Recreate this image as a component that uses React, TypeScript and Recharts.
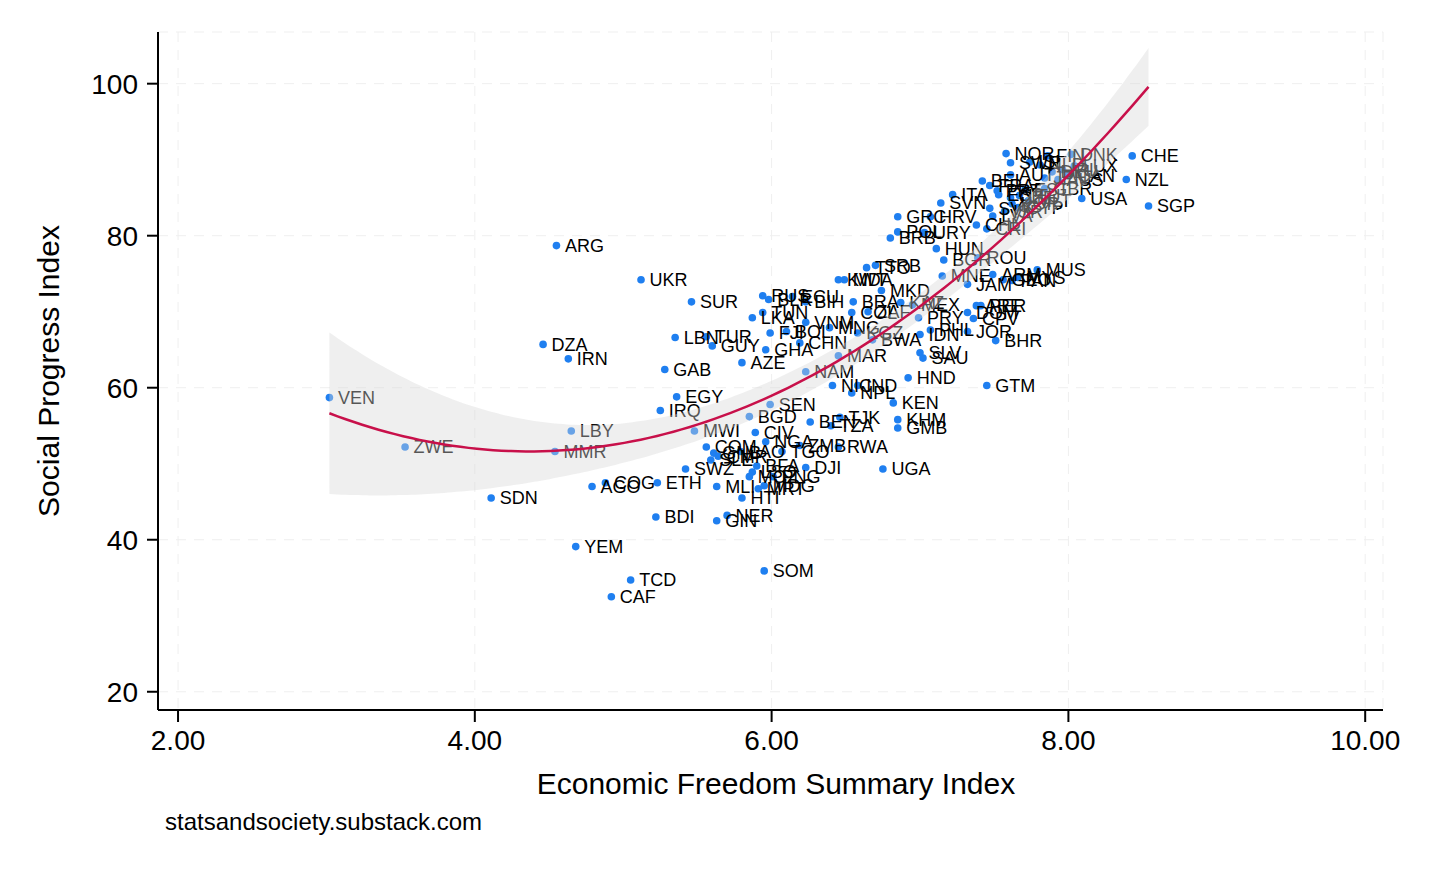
import React from "react";
import { ComposedChart, Scatter, Area, Line, XAxis, YAxis, CartesianGrid, LabelList, Label } from "recharts";

// country codes, Economic Freedom Summary Index, Social Progress Index
const countries = [
  "VEN", "ZWE", "SDN", "DZA", "IRN", "ARG", "LBY", "MMR", "YEM", "AGO",
  "COG", "TCD", "CAF", "UKR", "BDI", "ETH", "IRQ", "GAB", "EGY", "LBN",
  "SUR", "MWI", "SWZ", "TUR", "GUY", "COM", "GNB", "CMR", "SLE", "MLI",
  "GIN", "NER", "HTI", "LAO", "BFA", "LSO", "MOZ", "PNG", "MRT", "MDG",
  "CIV", "NGA", "TGO", "ZMB", "DJI", "UGA", "RWA", "BEN", "TZA", "TJK",
  "SEN", "BGD", "KHM", "GMB", "KEN", "NIC", "IND", "NPL", "HND", "GTM",
  "SOM", "NAM", "MAR", "AZE", "GHA", "CHN", "FJI", "BOL", "LKA", "TUN",
  "RUS", "BLR", "ECU", "BIH", "VNM", "MNG", "KGZ", "BWA", "IDN", "PHL",
  "SLV", "SAU", "BRA", "COL", "ZAF", "KAZ", "MEX", "PRY", "MKD", "KWT",
  "MDA", "TTO", "SRB", "HUN", "BGR", "ROU", "MNE", "JAM", "ARM", "GEO",
  "PAN", "MYS", "MUS", "ARE", "PER", "DOM", "CPV", "JOR", "BHR", "BRB",
  "POL", "URY", "GRC", "HRV", "CHL", "CRI", "SVN", "ITA", "SVK", "LVA",
  "ISR", "CYP", "KOR", "CZE", "LTU", "ESP", "PRT", "FRA", "EST", "GBR",
  "MLT", "USA", "SGP", "NZL", "CHE", "NOR", "SWE", "FIN", "DNK", "AUT",
  "BEL", "NLD", "ISL", "DEU", "IRL", "CAN", "AUS", "LUX", "JPN",
];

const econFreedom = [
  3.02, 3.53, 4.11, 4.46, 4.63, 4.55, 4.65, 4.54, 4.68, 4.79,
  4.88, 5.05, 4.92, 5.12, 5.22, 5.23, 5.25, 5.28, 5.36, 5.35,
  5.46, 5.48, 5.42, 5.56, 5.6, 5.56, 5.61, 5.64, 5.59, 5.63,
  5.63, 5.7, 5.8, 5.79, 5.9, 5.87, 5.85, 6.01, 5.91, 5.95,
  5.89, 5.96, 6.07, 6.19, 6.23, 6.75, 6.45, 6.26, 6.4, 6.46,
  5.99, 5.85, 6.85, 6.85, 6.82, 6.41, 6.58, 6.54, 6.92, 7.45,
  5.95, 6.23, 6.45, 5.8, 5.96, 6.19, 5.99, 6.1, 5.87, 5.94,
  5.94, 5.98, 6.14, 6.23, 6.23, 6.39, 6.58, 6.68, 7.0, 7.07,
  7.0, 7.02, 6.55, 6.54, 6.65, 6.87, 6.95, 6.99, 6.74, 6.45,
  6.49, 6.64, 6.7, 7.11, 7.16, 7.39, 7.15, 7.32, 7.49, 7.56,
  7.62, 7.66, 7.79, 7.38, 7.41, 7.32, 7.36, 7.32, 7.51, 6.8,
  6.85, 7.03, 6.85, 7.07, 7.38, 7.45, 7.14, 7.22, 7.47, 7.49,
  7.57, 7.66, 7.62, 7.61, 7.67, 7.53, 7.52, 7.47, 7.71, 7.84,
  7.73, 8.09, 8.54, 8.39, 8.43, 7.58, 7.61, 7.86, 8.02, 7.61,
  7.42, 7.81, 7.74, 7.89, 7.96, 8.0, 7.93, 8.04, 7.84,
];

const socialProgress = [
  58.7, 52.2, 45.5, 65.7, 63.8, 78.7, 54.3, 51.6, 39.1, 47.0,
  47.5, 34.7, 32.5, 74.2, 43.0, 47.5, 57.0, 62.4, 58.8, 66.6,
  71.3, 54.3, 49.3, 66.7, 65.5, 52.2, 51.4, 51.0, 50.5, 47.0,
  42.5, 43.2, 45.5, 51.6, 49.7, 48.9, 48.3, 48.3, 46.7, 47.1,
  54.1, 52.9, 51.6, 52.4, 49.5, 49.3, 52.2, 55.5, 55.0, 56.1,
  57.8, 56.2, 55.8, 54.7, 58.0, 60.3, 60.3, 59.3, 61.3, 60.3,
  35.9, 62.1, 64.2, 63.3, 65.0, 65.9, 67.2, 67.4, 69.2, 69.9,
  72.1, 71.6, 72.0, 71.3, 68.6, 67.9, 67.2, 66.3, 67.0, 67.6,
  64.6, 63.9, 71.3, 69.9, 70.0, 71.2, 70.9, 69.2, 72.8, 74.2,
  74.2, 75.8, 76.1, 78.3, 76.8, 77.1, 74.7, 73.6, 74.9, 74.2,
  74.1, 74.5, 75.5, 70.8, 70.8, 69.9, 69.1, 67.4, 66.2, 79.7,
  80.5, 80.4, 82.5, 82.5, 81.4, 80.9, 84.3, 85.4, 83.6, 82.6,
  83.2, 83.7, 84.2, 85.0, 85.3, 85.4, 85.9, 86.6, 86.1, 86.2,
  84.6, 84.9, 83.9, 87.4, 90.5, 90.8, 89.6, 90.5, 90.7, 88.0,
  87.2, 89.3, 89.7, 88.4, 88.7, 87.9, 87.4, 89.2, 87.6,
];

const xTicks = [2, 4, 6, 8, 10];
const yTicks = [20, 40, 60, 80, 100];

const points = countries.map((code, i) => ({ code, x: econFreedom[i], y: socialProgress[i] }));

// quadratic least-squares fit with 95% CI of the prediction (like qfitci)
function invert3(m: number[][]) {
  const [a, b, c] = m[0];
  const [d, e, f] = m[1];
  const [g, h, k] = m[2];
  const A = e * k - f * h, B = -(d * k - f * g), C = d * h - e * g;
  const det = a * A + b * B + c * C;
  return [
    [A / det, -(b * k - c * h) / det, (b * f - c * e) / det],
    [B / det, (a * k - c * g) / det, -(a * f - c * d) / det],
    [C / det, -(a * h - b * g) / det, (a * e - b * d) / det],
  ];
}

function quadFit() {
  const S = [[0, 0, 0], [0, 0, 0], [0, 0, 0]];
  const v = [0, 0, 0];
  points.forEach((p) => {
    const r = [1, p.x, p.x * p.x];
    for (let j = 0; j < 3; j++) {
      v[j] += r[j] * p.y;
      for (let k = 0; k < 3; k++) S[j][k] += r[j] * r[k];
    }
  });
  const inv = invert3(S);
  const beta = inv.map((row) => row[0] * v[0] + row[1] * v[1] + row[2] * v[2]);
  let rss = 0;
  points.forEach((p) => {
    const e = p.y - (beta[0] + beta[1] * p.x + beta[2] * p.x * p.x);
    rss += e * e;
  });
  const s2 = rss / (points.length - 3);
  const lo = Math.min(...econFreedom);
  const hi = Math.max(...econFreedom);
  const rows = [];
  for (let i = 0; i <= 100; i++) {
    const x = lo + ((hi - lo) * i) / 100;
    const r = [1, x, x * x];
    const fit = beta[0] + beta[1] * x + beta[2] * x * x;
    let q = 0;
    for (let j = 0; j < 3; j++) for (let k = 0; k < 3; k++) q += r[j] * inv[j][k] * r[k];
    const se = Math.sqrt(s2 * q);
    rows.push({ x, fit, band: [fit - 1.976 * se, fit + 1.976 * se] });
  }
  return rows;
}

const fitRows = quadFit();

const font = "'Liberation Sans', Arial, sans-serif";

const Dot = (props: any) => <circle cx={props.cx} cy={props.cy} r={3.8} fill="#1f7ff0" />;

const XTitle = ({ viewBox }: any) => (
  <text x={776} y={viewBox.y + 73} textAnchor="middle" dominantBaseline="central" fontSize={30} fontFamily={font} fill="#000">
    Economic Freedom Summary Index
  </text>
);

const YTitle = ({ viewBox }: any) => {
  const cy = viewBox.y + viewBox.height / 2;
  return (
    <text x={48} y={cy} transform={`rotate(-90, 48, ${cy})`} textAnchor="middle" dominantBaseline="central" fontSize={30} fontFamily={font} fill="#000">
      Social Progress Index
    </text>
  );
};

export default function App() {
  return (
    <div style={{ position: "absolute", left: 0, top: 0, width: 1456, height: 874, background: "#fff" }}>
      <ComposedChart width={1456} height={874} margin={{ top: 32, right: 73, left: 0, bottom: 74 }}>
        <CartesianGrid strokeDasharray="10 8" stroke="#efefef" />
        <XAxis
          dataKey="x"
          type="number"
          domain={[1.865, 10.12]}
          ticks={xTicks}
          tickFormatter={(v) => v.toFixed(2)}
          allowDataOverflow
          height={90}
          stroke="#000"
          strokeWidth={2}
          tickSize={12}
          tickMargin={8}
          tick={{ fontSize: 28, fontFamily: font, fill: "#000" }}
        >
          <Label content={<XTitle />} />
        </XAxis>
        <YAxis
          dataKey="y"
          type="number"
          domain={[17.6, 106.8]}
          ticks={yTicks}
          allowDataOverflow
          width={158}
          stroke="#000"
          strokeWidth={2}
          tickSize={11}
          tickMargin={9}
          tick={{ fontSize: 28, fontFamily: font, fill: "#000" }}
        >
          <Label content={<YTitle />} />
        </YAxis>
        <Scatter data={points} shape={<Dot />} isAnimationActive={false}>
          <LabelList dataKey="code" position="right" offset={4} fontSize={18} fontFamily={font} fill="#000" />
        </Scatter>
        <Area
          data={fitRows}
          dataKey="band"
          type="monotone"
          fill="#d6d6d6"
          fillOpacity={0.4}
          stroke="none"
          isAnimationActive={false}
          zIndex={2500}
        />
        <Line
          data={fitRows}
          dataKey="fit"
          type="monotone"
          stroke="#c8104a"
          strokeWidth={2.5}
          dot={false}
          isAnimationActive={false}
          zIndex={2600}
        />
      </ComposedChart>
      <div style={{ position: "absolute", left: 165, top: 808, fontSize: 24, fontFamily: font, color: "#000", lineHeight: "28px" }}>
        statsandsociety.substack.com
      </div>
    </div>
  );
}
